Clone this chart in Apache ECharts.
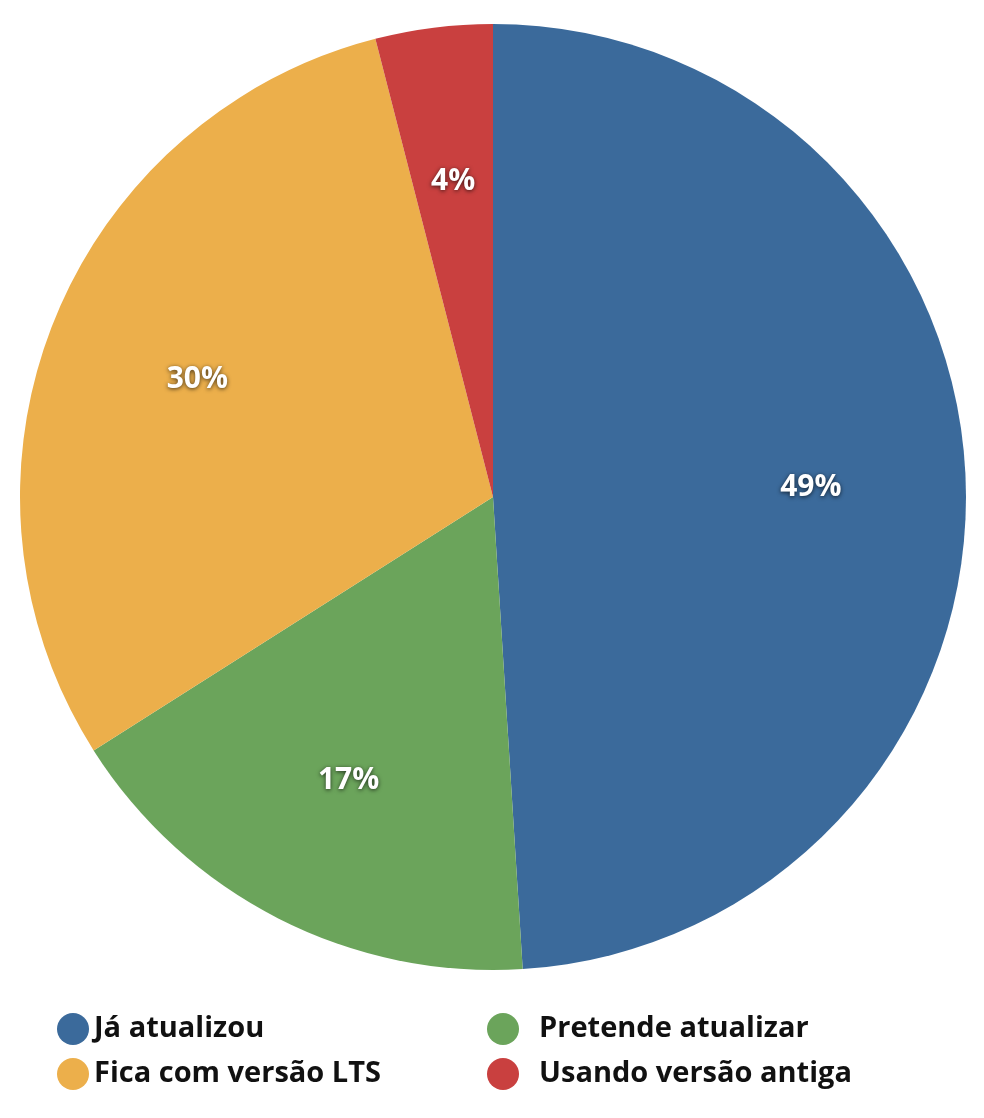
<!DOCTYPE html>
<html><head><meta charset="utf-8">
<script src="https://cdn.jsdelivr.net/npm/echarts@6/dist/echarts.min.js"></script>
<style>html,body{margin:0;background:#fff}#c{width:984px;height:1118px}</style>
</head><body><div id="c"></div>
<script>
const categories = ['Já atualizou','Pretende atualizar','Fica com versão LTS','Usando versão antiga'];
const values = [49, 17, 30, 4];
const colors = ['#3b6a9b','#6ba45b','#ecaf4b','#c9403f'];
const data = categories.map((n,i)=>({name:n,value:values[i],itemStyle:{color:colors[i]}}));
const ld = (idx)=>idx.map(i=>({name:categories[i],itemStyle:{color:colors[i]}}));
const lt = {fontSize:29,fontWeight:'bold',color:'#111',fontFamily:'Open Sans, DejaVu Sans, sans-serif'};
const chart = echarts.init(document.getElementById('c'));
chart.setOption({
  animation:false,
  legend:[
    {left:52,top:1008,orient:'vertical',icon:'circle',itemWidth:32,itemHeight:32,itemGap:13,textStyle:lt,data:ld([0,2]),selectedMode:false},
    {left:482,top:1008,orient:'vertical',icon:'circle',itemWidth:32,itemHeight:32,itemGap:13,textStyle:lt,data:ld([1,3]),selectedMode:false,formatter:n=>'  '+n}
  ],
  series:[
    {type:'pie',center:[493,497],radius:[0,473],startAngle:90,label:{show:false},labelLine:{show:false},data:data,silent:true},
    {type:'pie',center:[493,497],radius:[157,473],startAngle:90,silent:true,
     itemStyle:{color:'rgba(0,0,0,0)'},
     label:{show:true,position:'inside',formatter:'{c}%',fontSize:30,fontWeight:'bold',color:'#fff',
       fontFamily:'Open Sans, DejaVu Sans, sans-serif',textShadowColor:'rgba(0,0,0,0.7)',textShadowBlur:4,textShadowOffsetY:1},
     labelLine:{show:false},
     data:categories.map((n,i)=>({name:n,value:values[i],itemStyle:{color:'rgba(0,0,0,0)'}}))}
  ]
});
</script></body></html>
